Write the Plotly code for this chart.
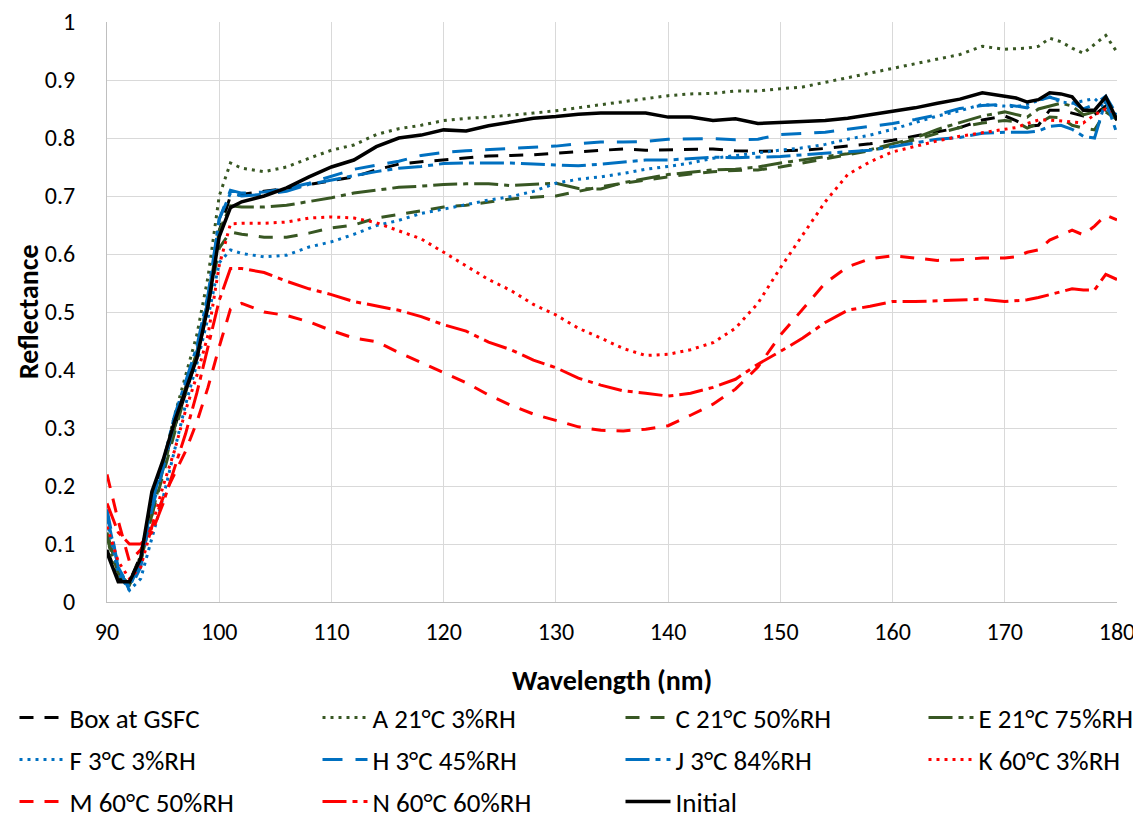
import plotly.graph_objects as go

# ---------------- data ----------------
wavelength = [90, 91, 92, 93, 94, 95, 96, 97, 98, 99, 100, 101, 102,
              104, 106, 108, 110, 112, 114, 116, 118, 120, 122,
              124, 126, 128, 130, 132, 134, 136, 138, 140,
              142, 144, 146, 148, 150, 152, 154, 156, 158,
              160, 162, 164, 166, 168, 170,
              171, 172, 173, 174, 175, 176, 177, 178, 179, 180]

box_gsfc = [0.09, 0.04, 0.035, 0.08, 0.175, 0.235, 0.30, 0.36, 0.42, 0.51, 0.64, 0.70, 0.703,
            0.708, 0.713, 0.72, 0.727, 0.733, 0.745, 0.755, 0.759, 0.762, 0.766,
            0.769, 0.77, 0.771, 0.774, 0.776, 0.778, 0.781, 0.779, 0.78,
            0.781, 0.781, 0.778, 0.777, 0.778, 0.779, 0.782, 0.786, 0.79,
            0.796, 0.803, 0.81, 0.818, 0.831, 0.838,
            0.83, 0.82, 0.822, 0.848, 0.848, 0.843, 0.838, 0.84, 0.855, 0.831]

a_21c_3rh = [0.11, 0.04, 0.03, 0.08, 0.17, 0.24, 0.32, 0.39, 0.46, 0.56, 0.70, 0.757, 0.748,
             0.742, 0.75, 0.765, 0.779, 0.788, 0.806, 0.816, 0.822, 0.83, 0.834,
             0.836, 0.839, 0.843, 0.847, 0.852, 0.857, 0.863, 0.868, 0.873,
             0.876, 0.877, 0.881, 0.881, 0.885, 0.888, 0.896, 0.904, 0.912,
             0.921, 0.929, 0.937, 0.944, 0.958, 0.953,
             0.954, 0.955, 0.958, 0.972, 0.966, 0.955, 0.946, 0.962, 0.977, 0.948]

c_21c_50rh = [0.11, 0.05, 0.03, 0.07, 0.15, 0.22, 0.29, 0.36, 0.43, 0.51, 0.61, 0.638, 0.634,
              0.629, 0.629, 0.636, 0.645, 0.65, 0.662, 0.668, 0.675, 0.681, 0.684,
              0.69, 0.695, 0.698, 0.70, 0.708, 0.716, 0.722, 0.728, 0.733,
              0.738, 0.742, 0.744, 0.745, 0.75, 0.757, 0.765, 0.771, 0.778,
              0.788, 0.797, 0.808, 0.818, 0.826, 0.83,
              0.828, 0.817, 0.825, 0.836, 0.835, 0.822, 0.817, 0.814, 0.845, 0.832]

e_21c_75rh = [0.12, 0.05, 0.03, 0.07, 0.15, 0.23, 0.30, 0.37, 0.43, 0.52, 0.64, 0.683, 0.681,
              0.681, 0.684, 0.69, 0.697, 0.705, 0.71, 0.715, 0.717, 0.72, 0.721,
              0.721, 0.718, 0.72, 0.722, 0.713, 0.712, 0.723, 0.73, 0.737,
              0.741, 0.745, 0.746, 0.75, 0.757, 0.762, 0.767, 0.773, 0.78,
              0.79, 0.80, 0.815, 0.826, 0.838, 0.845,
              0.84, 0.836, 0.85, 0.855, 0.86, 0.855, 0.84, 0.845, 0.85, 0.835]

f_3c_3rh = [0.14, 0.05, 0.02, 0.04, 0.11, 0.18, 0.26, 0.34, 0.41, 0.49, 0.585, 0.607, 0.601,
            0.595, 0.598, 0.612, 0.621, 0.634, 0.649, 0.658, 0.67, 0.677, 0.685,
            0.693, 0.699, 0.708, 0.722, 0.729, 0.733, 0.739, 0.746, 0.751,
            0.757, 0.765, 0.77, 0.775, 0.779, 0.783, 0.789, 0.798, 0.805,
            0.815, 0.827, 0.838, 0.847, 0.858, 0.855,
            0.854, 0.858, 0.865, 0.871, 0.862, 0.86, 0.864, 0.868, 0.85, 0.84]

h_3c_45rh = [0.16, 0.06, 0.02, 0.06, 0.16, 0.23, 0.31, 0.37, 0.43, 0.52, 0.66, 0.71, 0.705,
             0.707, 0.713, 0.722, 0.734, 0.746, 0.753, 0.76, 0.77, 0.775, 0.778,
             0.78, 0.782, 0.783, 0.786, 0.79, 0.793, 0.793, 0.794, 0.798,
             0.798, 0.799, 0.797, 0.798, 0.806, 0.808, 0.81, 0.815, 0.82,
             0.825, 0.832, 0.84, 0.851, 0.856, 0.858,
             0.855, 0.852, 0.865, 0.87, 0.865, 0.862, 0.85, 0.858, 0.872, 0.84]

j_3c_84rh = [0.15, 0.06, 0.025, 0.07, 0.17, 0.24, 0.32, 0.38, 0.44, 0.53, 0.66, 0.705, 0.70,
             0.703, 0.708, 0.72, 0.728, 0.735, 0.742, 0.748, 0.751, 0.756, 0.757,
             0.757, 0.757, 0.755, 0.753, 0.752, 0.755, 0.759, 0.762, 0.762,
             0.765, 0.767, 0.766, 0.767, 0.768, 0.771, 0.774, 0.776, 0.779,
             0.785, 0.792, 0.798, 0.801, 0.808, 0.81,
             0.81, 0.81, 0.812, 0.82, 0.822, 0.815, 0.803, 0.80, 0.865, 0.807]

k_60c_3rh = [0.13, 0.07, 0.04, 0.06, 0.13, 0.20, 0.26, 0.33, 0.39, 0.46, 0.58, 0.652, 0.653,
             0.653, 0.655, 0.662, 0.664, 0.662, 0.654, 0.64, 0.626, 0.603, 0.58,
             0.556, 0.537, 0.513, 0.495, 0.472, 0.455, 0.437, 0.425, 0.427,
             0.435, 0.447, 0.472, 0.515, 0.576, 0.634, 0.69, 0.737, 0.759,
             0.776, 0.786, 0.795, 0.803, 0.809, 0.815,
             0.818, 0.825, 0.831, 0.831, 0.829, 0.827, 0.826, 0.84, 0.85, 0.843]

m_60c_50rh = [0.22, 0.14, 0.07, 0.09, 0.13, 0.18, 0.22, 0.26, 0.31, 0.37, 0.44, 0.505, 0.515,
              0.50, 0.494, 0.483, 0.468, 0.455, 0.449, 0.43, 0.413, 0.396, 0.378,
              0.357, 0.339, 0.324, 0.313, 0.302, 0.296, 0.295, 0.298, 0.304,
              0.322, 0.341, 0.367, 0.405, 0.46, 0.505, 0.55, 0.578, 0.592,
              0.597, 0.593, 0.589, 0.59, 0.593, 0.593,
              0.595, 0.603, 0.607, 0.624, 0.633, 0.641, 0.633, 0.648, 0.667, 0.659]

n_60c_60rh = [0.17, 0.12, 0.10, 0.10, 0.12, 0.17, 0.23, 0.29, 0.36, 0.44, 0.52, 0.575, 0.575,
              0.568, 0.553, 0.54, 0.53, 0.518, 0.51, 0.503, 0.492, 0.478, 0.467,
              0.448, 0.435, 0.417, 0.404, 0.386, 0.374, 0.364, 0.36, 0.355,
              0.36, 0.37, 0.384, 0.41, 0.432, 0.455, 0.482, 0.503, 0.51,
              0.518, 0.518, 0.519, 0.521, 0.522, 0.518,
              0.52, 0.521, 0.525, 0.53, 0.536, 0.54, 0.538, 0.538, 0.565, 0.556]

initial = [0.085, 0.035, 0.035, 0.075, 0.19, 0.245, 0.31, 0.365, 0.42, 0.51, 0.63, 0.68, 0.69,
           0.70, 0.714, 0.733, 0.75, 0.762, 0.785, 0.80, 0.805, 0.814, 0.812,
           0.821, 0.828, 0.834, 0.837, 0.841, 0.843, 0.843, 0.843, 0.836,
           0.836, 0.83, 0.833, 0.825, 0.827, 0.828, 0.83, 0.834, 0.84,
           0.846, 0.852, 0.86, 0.867, 0.878, 0.871,
           0.869, 0.862, 0.866, 0.878, 0.876, 0.871, 0.848, 0.848, 0.871, 0.831]

series_names = ["Box at GSFC", "A 21°C 3%RH", "C 21°C 50%RH", "E 21°C 75%RH",
                "F 3°C 3%RH", "H 3°C 45%RH", "J 3°C 84%RH", "K 60°C 3%RH",
                "M 60°C 50%RH", "N 60°C 60%RH", "Initial"]
series_values = [box_gsfc, a_21c_3rh, c_21c_50rh, e_21c_75rh,
                 f_3c_3rh, h_3c_45rh, j_3c_84rh, k_60c_3rh,
                 m_60c_50rh, n_60c_60rh, initial]

y_ticks = [0, 0.1, 0.2, 0.3, 0.4, 0.5, 0.6, 0.7, 0.8, 0.9, 1]
y_tick_labels = ["0", "0.1", "0.2", "0.3", "0.4", "0.5", "0.6", "0.7", "0.8", "0.9", "1"]

# ---------------- styles ----------------
BLACK = "#000000"
GREEN = "#385723"
BLUE = "#0070C0"
RED = "#FF0000"
DOT = "3px,5px"
DASH = "14px,11px"
LDD = "24px,6px,5px,6px"

styles = [
    (BLACK, DASH, 3),
    (GREEN, DOT, 3),
    (GREEN, DASH, 3),
    (GREEN, LDD, 3),
    (BLUE, DOT, 3),
    (BLUE, "20px,13px", 3),
    (BLUE, LDD, 3),
    (RED, DOT, 3),
    (RED, DASH, 3),
    (RED, LDD, 3),
    (BLACK, "solid", 3.5),
]

FONT = "Carlito, Calibri, Lato, sans-serif"

# The page body adds an 8px offset, so figure coordinates = screen coordinates - 8.
W, H = 1141, 818

fig = go.Figure()
legend_layouts = {}
for i, (name, vals, (col, dash, w)) in enumerate(zip(series_names, series_values, styles)):
    key = "legend" if i == 0 else f"legend{i + 1}"
    fig.add_trace(go.Scatter(
        x=wavelength, y=vals, mode="lines", name=name,
        line=dict(color=col, dash=dash, width=w),
        legend=key,
    ))
    row, colidx = divmod(i, 4)
    item_left = 6.5 + 303 * colidx
    row_center = [710, 752, 794][row]
    legend_layouts[key] = dict(
        orientation="h", xref="container", yref="container",
        x=item_left / W, xanchor="left", y=1 - row_center / H, yanchor="middle",
        itemwidth=45,
        font=dict(family=FONT, size=27, color="#000000"),
        bgcolor="rgba(0,0,0,0)",
    )

fig.update_layout(
    width=W, height=H,
    margin=dict(l=99, r=W - 1109, t=14, b=H - 594, autoexpand=False),
    paper_bgcolor="white", plot_bgcolor="white",
    font=dict(family=FONT, size=24, color="#000000"),
    showlegend=True,
    xaxis=dict(range=[90, 180], tick0=90, dtick=10, showgrid=True,
               gridcolor="#D9D9D9", gridwidth=1, zeroline=False,
               showline=True, linecolor="#BFBFBF", linewidth=1,
               ticks="", ticklabelstandoff=8, ticklabeloverflow="allow",
               automargin=False,
               tickfont=dict(family=FONT, size=24, color="#000000")),
    yaxis=dict(range=[0, 1], tickmode="array", tickvals=y_ticks, ticktext=y_tick_labels,
               showgrid=True, gridcolor="#D9D9D9", gridwidth=1, zeroline=False,
               showline=True, linecolor="#BFBFBF", linewidth=1,
               ticks="", ticklabelstandoff=26, ticklabeloverflow="allow",
               automargin=False,
               tickfont=dict(family=FONT, size=24, color="#000000")),
    annotations=[
        dict(text="<b>Wavelength (nm)</b>", xref="paper", yref="paper",
             x=0.5, y=-(681 - 602) / 580, xanchor="center", yanchor="middle",
             showarrow=False, font=dict(family=FONT, size=28, color="#000000")),
        dict(text="<b>Reflectance</b>", xref="paper", yref="paper",
             x=(28 - 107) / 1010, y=0.5, xanchor="center", yanchor="middle",
             textangle=-90, showarrow=False,
             font=dict(family=FONT, size=28, color="#000000")),
    ],
    **legend_layouts,
)

fig.write_html("out.html")
